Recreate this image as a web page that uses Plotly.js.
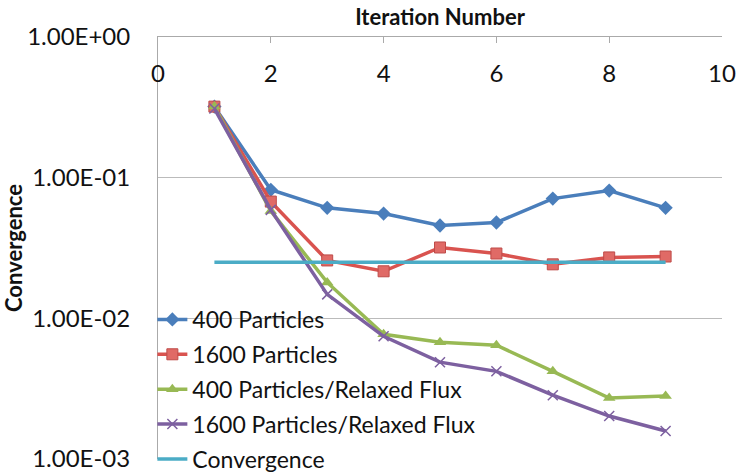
<!DOCTYPE html>
<html><head><meta charset="utf-8">
<script src="https://cdn.plot.ly/plotly-3.0.1.min.js"></script>
<style>body{margin:0;background:#fff}#c{width:737px;height:475px}</style>
</head><body><div id="c"></div>
<script>
const iterations = [1, 2, 3, 4, 5, 6, 7, 8, 9];
const p400 = [0.32, 0.082, 0.061, 0.0556, 0.0457, 0.048, 0.071, 0.081, 0.061];
const p1600 = [0.32, 0.0676, 0.0258, 0.0216, 0.0319, 0.0289, 0.0242, 0.0271, 0.0275];
const p400Relaxed = [0.32, 0.058, 0.018, 0.0077, 0.00676, 0.00644, 0.0042, 0.00271, 0.0028];
const p1600Relaxed = [0.31, 0.059, 0.0148, 0.00745, 0.00488, 0.0042, 0.00284, 0.00202, 0.00158];
const convergenceX = [1, 9];
const convergenceY = [0.025, 0.025];
const xTickVals = [0, 2, 4, 6, 8, 10];
const yTickVals = [1, 0.1, 0.01, 0.001];
const yTickText = ['1.00E+00', '1.00E-01', '1.00E-02', '1.00E-03'];
const seriesNames = ['400 Particles', '1600 Particles', '400 Particles/Relaxed Flux', '1600 Particles/Relaxed Flux', 'Convergence'];

const font = 'Lato, "Open Sans", sans-serif';
function tr(y, name, color, symbol, i, extra) {
  return Object.assign({
    x: iterations, y: y, name: name, type: 'scatter', mode: 'lines+markers',
    legendgroup: 'g' + i,
    line: {color: color, width: 3.5},
    marker: {symbol: symbol, size: 11, color: color}
  }, extra || {});
}
const data = [
  tr(p400, seriesNames[0], '#4a7ebb', 'diamond', 0),
  tr(p1600, seriesNames[1], '#d9534f', 'square', 1, {marker: {symbol: 'square', size: 11, color: '#e06a66', line: {color: '#be4b48', width: 1}}}),
  tr(p400Relaxed, seriesNames[2], '#98b954', 'triangle-up', 2),
  tr(p1600Relaxed, seriesNames[3], '#7d60a0', 'x-thin-open', 3, {marker: {symbol: 'x-thin-open', size: 10, color: '#7d60a0', line: {color: '#7d60a0', width: 1.5}}}),
  {x: convergenceX, y: convergenceY, name: seriesNames[4], type: 'scatter', mode: 'lines', legendgroup: 'g4', line: {color: '#4bacc6', width: 3.5}},
  {x: [], y: [], xaxis: 'x2', yaxis: 'y', type: 'scatter', mode: 'lines', showlegend: false, hoverinfo: 'skip'}
];
const layout = {
  width: 737, height: 475,
  margin: {l: 158, r: 15, t: 37, b: 16, autoexpand: false},
  paper_bgcolor: '#fff', plot_bgcolor: '#fff',
  font: {family: font, color: '#111', size: 20},
  showlegend: true,
  legend: {x: -0.01, xanchor: 'left', y: -0.052, yanchor: 'bottom', bgcolor: 'rgba(0,0,0,0)',
           font: {family: font, size: 23, color: '#111'}, tracegroupgap: 2, itemwidth: 30},
  xaxis: {
    side: 'top', range: [0, 10], tickvals: xTickVals, automargin: false,
    showgrid: false, zeroline: false, showline: true, linecolor: '#aaa', linewidth: 1,
    ticks: 'inside', ticklen: 6, tickcolor: '#aaa', showticklabels: false,
    title: {text: '<b>Iteration Number</b>', font: {family: font, size: 22, color: '#111'}, standoff: 4}
  },
  xaxis2: {
    overlaying: 'x', anchor: 'free', position: 1, side: 'bottom', range: [0, 10], tickvals: xTickVals,
    automargin: false, showgrid: false, zeroline: false, showline: false, ticks: '',
    ticklabelstandoff: 20,
    tickfont: {family: font, size: 24, color: '#111'}
  },
  yaxis: {
    type: 'log', range: [-3, 0], automargin: false,
    tickvals: yTickVals, ticktext: yTickText,
    showgrid: true, gridcolor: '#bbb', gridwidth: 1,
    zeroline: false, showline: true, linecolor: '#aaa', linewidth: 1, mirror: false,
    ticks: '', ticklabelstandoff: 22,
    tickfont: {family: font, size: 24, color: '#111'},
    title: {text: '<b>Convergence</b>', font: {family: font, size: 22, color: '#111'}, standoff: 2}
  }
};
Plotly.newPlot('c', data, layout, {displayModeBar: false});
</script></body></html>
